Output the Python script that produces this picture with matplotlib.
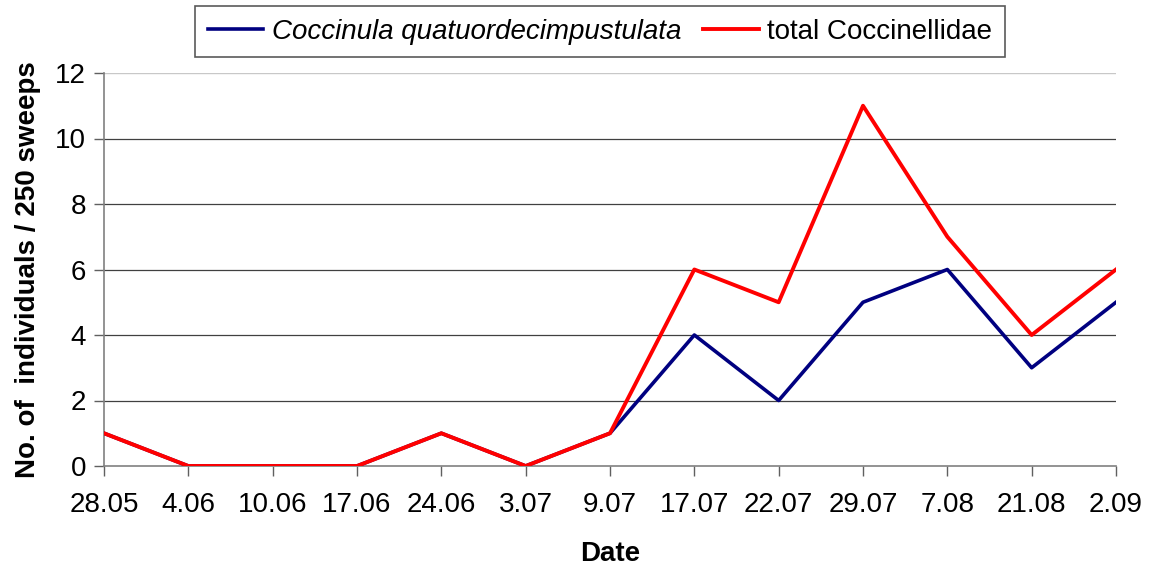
import matplotlib
matplotlib.use("Agg")
import matplotlib.pyplot as plt

# ── Data ──────────────────────────────────────────────────────────────────────
dates = ["28.05", "4.06", "10.06", "17.06", "24.06", "3.07", "9.07",
         "17.07", "22.07", "29.07", "7.08", "21.08", "2.09"]
coccinula = [1, 0, 0, 0, 1, 0, 1, 4, 2, 5, 6, 3, 5]
total = [1, 0, 0, 0, 1, 0, 1, 6, 5, 11, 7, 4, 6]
yticks = [0, 2, 4, 6, 8, 10, 12]

plt.rcParams["font.family"] = ["Liberation Sans", "DejaVu Sans"]

fig = plt.figure(figsize=(11.5, 5.69), dpi=100, facecolor="white")
ax = fig.add_axes([104 / 1150, 1 - 466 / 569, (1116 - 104) / 1150, (466 - 73) / 569])

x = range(len(dates))
ax.plot(x, coccinula, color="#000080", lw=2.6, label="Coccinula quatuordecimpustulata", zorder=3)
ax.plot(x, total, color="#ff0000", lw=2.8, label="total Coccinellidae", zorder=4)

ax.set_xlim(0, len(dates) - 1)
ax.set_ylim(0, 12)
ax.set_xticks(list(x))
ax.set_xticklabels(dates)
ax.set_yticks(yticks)

# gridlines: dark for inner ticks, light at top
for y in yticks[1:-1]:
    ax.axhline(y, color="#404040", lw=0.9, zorder=1)
ax.axhline(12, color="#c8c8c8", lw=1.0, zorder=1)

for side in ("top", "right"):
    ax.spines[side].set_visible(False)
for side in ("left", "bottom"):
    ax.spines[side].set_color("#808080")
    ax.spines[side].set_linewidth(1.2)

ax.tick_params(axis="both", direction="out", length=7, width=1.0, color="#606060",
               labelsize=20)
ax.tick_params(axis="x", pad=12)
ax.tick_params(axis="y", pad=6)

ax.set_xlabel("Date", fontsize=20, fontweight="bold", labelpad=16)
ax.set_ylabel("No. of  individuals / 250 sweeps", fontsize=20, fontweight="bold", labelpad=10)

leg = ax.legend(loc="lower center", bbox_to_anchor=(0.49, 1.04), ncol=2, fontsize=20,
                frameon=True, fancybox=False, edgecolor="#303030", handlelength=2.0,
                handletextpad=0.3, columnspacing=0.8, borderpad=0.45, borderaxespad=0)
leg.get_frame().set_linewidth(1.2)
leg.get_texts()[0].set_fontstyle("italic")

fig.savefig("out.png", dpi=100, facecolor="white")
